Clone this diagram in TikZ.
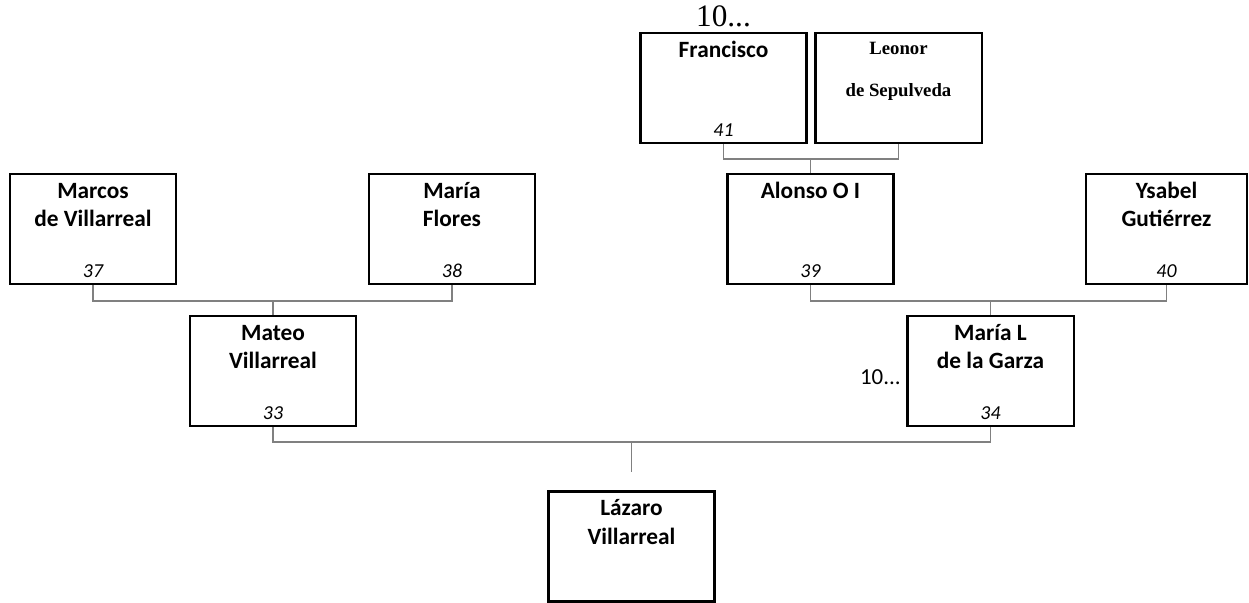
\documentclass[tikz,border=0pt]{standalone}
\usepackage{fontspec}
\setmainfont{Carlito}
\newfontfamily\timesface{Liberation Serif}
\usetikzlibrary{positioning}

\begin{document}
\begin{tikzpicture}[x=0.48pt,y=-0.48pt,
  person node/.style={rectangle,draw,line width=1pt,
    minimum width=79.7pt,minimum height=52.8pt,inner sep=0pt},
  name label/.style={anchor=base,yshift=-25.8pt,align=center,inner sep=0pt,
    font=\fontsize{11.2}{13.6}\selectfont\bfseries},
  short label/.style={name label,yshift=13.6pt},
  old label/.style={anchor=base,yshift=-31pt,align=center,inner sep=0pt,
    font=\timesface\fontsize{9}{20.2}\selectfont\bfseries},
  num label/.style={anchor=base,yshift=3.8pt,inner sep=0pt,
    font=\fontsize{9.5}{11}\selectfont\itshape},
  link/.style={draw=black!50,line width=0.75pt}]

  \useasboundingbox (0,0) rectangle (1249,602);

  % great-grandparents
  \node[person node,label={[short label]north:Francisco},
        label={[num label]south:41}] (francisco) at (723.5,88) {};
  \node[person node,label={[old label]north:Leonor\\de Sepulveda}]
        (leonor) at (898.5,88) {};

  % grandparents
  \node[person node,label={[name label]north:Marcos\\de Villarreal},
        label={[num label]south:37}] (marcos) at (93,229) {};
  \node[person node,label={[name label]north:María\\Flores},
        label={[num label]south:38}] (flores) at (452,229) {};
  \node[person node,label={[short label]north:Alonso O I},
        label={[num label]south:39}] (alonso) at (810.5,229) {};
  \node[person node,minimum width=77.3pt,
        label={[name label]north:Ysabel\\Gutiérrez},
        label={[num label]south:40}] (ysabel) at (1166.5,229) {};

  % parents
  \node[person node,label={[name label]north:Mateo\\Villarreal},
        label={[num label]south:33}] (mateo) at (273,371) {};
  \node[person node,label={[name label]north:María L\\de la Garza},
        label={[num label]south:34}] (marial) at (990.5,371) {};

  % child
  \node[person node,label={[name label]north:Lázaro\\Villarreal}]
        (lazaro) at (631.5,546.5) {};

  % generation marks
  \node[anchor=base,inner sep=0pt,font=\timesface\fontsize{15}{18}\selectfont]
        (genA) at ([yshift=2.4pt]francisco.north) {10...};
  \node[left=2.6pt of marial,yshift=-3pt,inner sep=0pt,
        font=\fontsize{11}{13}\selectfont] (genB) {10...};

  % couples
  \draw[link] (francisco.south) -- ++(0,15) coordinate (barA) -| (leonor.south);
  \draw[link] (alonso.north) -- (alonso.north |- barA);
  \draw[link] (marcos.south) -- ++(0,16) coordinate (barB) -| (flores.south);
  \draw[link] (mateo.north) -- (mateo.north |- barB);
  \draw[link] (alonso.south) -- ++(0,16) coordinate (barC) -| (ysabel.south);
  \draw[link] (marial.north) -- (marial.north |- barC);
  \draw[link] (mateo.south) -- ++(0,15) coordinate (barD) -| (marial.south);
  \coordinate (stub) at ([yshift=9.1pt]lazaro.north);
  \draw[link] (stub) -- (stub |- barD);

\end{tikzpicture}
\end{document}
